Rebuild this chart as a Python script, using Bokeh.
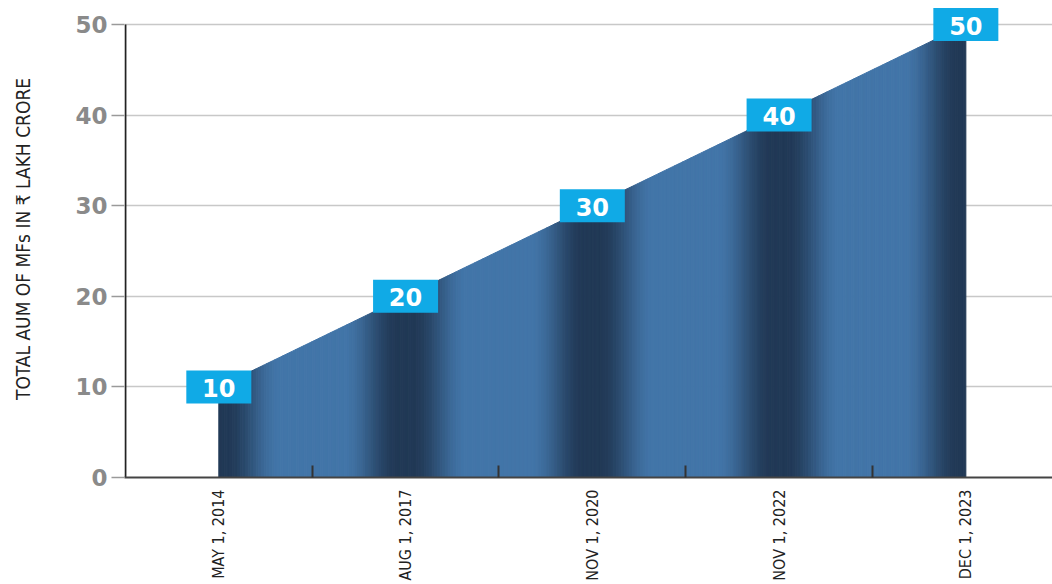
import math
import numpy as np
from bokeh.plotting import figure
from bokeh.models import ColumnDataSource, FixedTicker, Range1d
from bokeh.core.properties import value
from bokeh.embed import file_html
from bokeh.resources import INLINE

# ---- data ----
dates = ["MAY 1, 2014", "AUG 1, 2017", "NOV 1, 2020", "NOV 1, 2022", "DEC 1, 2023"]
aum = [10, 20, 30, 40, 50]
y_ticks = [0, 10, 20, 30, 40, 50]
y_label = "TOTAL AUM OF MFs IN ₹ LAKH CRORE"

idx = list(range(len(dates)))

NARROW = "'DejaVu Sans Condensed', 'Liberation Sans Narrow', 'Roboto Condensed', Roboto, sans-serif"

p = figure(width=1052, height=584, output_backend="svg", toolbar_location=None,
           x_range=Range1d(-0.505, 4.464), y_range=Range1d(0, 52.65),
           min_border_left=124, min_border_right=0, min_border_top=0,
           min_border_bottom=107)
p.outline_line_color = None
p.background_fill_color = "white"

# ---- shaded area (drawn as thin strips to imitate the gradient shading) ----
dark = np.array([33, 57, 86])
light = np.array([66, 117, 168])


def shade(d):
    d0, d1 = 0.04, 0.33
    if d <= d0:
        f = 1.0
    elif d >= d1:
        f = 0.0
    else:
        u = (d - d0) / (d1 - d0)
        f = 1 - (3 * u * u - 2 * u ** 3)
    c = light + (dark - light) * f
    return "#%02x%02x%02x" % tuple(int(round(v)) for v in c)


xs, ys, cols = [], [], []
N = 70
for i in range(len(aum) - 1):
    xa_, xb_ = idx[i], idx[i + 1]
    ya_, yb_ = aum[i], aum[i + 1]
    ts = np.linspace(0, 1, N + 1)
    for k in range(N):
        t0, t1 = ts[k], ts[k + 1]
        x0, x1 = xa_ + (xb_ - xa_) * t0, xa_ + (xb_ - xa_) * t1
        y0, y1 = ya_ + (yb_ - ya_) * t0, ya_ + (yb_ - ya_) * t1
        xs.append([x0, x1, x1, x0])
        ys.append([0, 0, y1, y0])
        tm = (t0 + t1) / 2
        cols.append(shade(min(tm, 1 - tm)))

strip_src = ColumnDataSource(dict(xs=xs, ys=ys, c=cols))
p.patches("xs", "ys", source=strip_src, fill_color="c", line_color="c", line_width=1)

# ---- y axis line (only from 0 to 50) ----
p.segment(x0=[-0.5], y0=[y_ticks[0]], x1=[-0.5], y1=[y_ticks[-1]],
          line_color="#222222", line_width=2)

# ---- value boxes ----
src = ColumnDataSource(dict(x=idx, y=aum, t=[str(v) for v in aum]))
p.rect(x="x", y="y", width=65, height=33, width_units="screen", height_units="screen",
       source=src, fill_color="#10aae6", line_color=None)
p.text(x="x", y="y", text="t", source=src, text_align="center", text_baseline="middle",
       text_color="white", text_font=value("DejaVu Sans"), text_font_style="bold",
       text_font_size="24px", y_offset=1)

# ---- axes ----
xa = p.xaxis[0]
xa.ticker = FixedTicker(ticks=idx, minor_ticks=[i + 0.5 for i in idx[:-1]])
xa.major_label_overrides = {i: d for i, d in zip(idx, dates)}
xa.major_label_orientation = math.pi / 2
xa.major_label_standoff = 12
xa.major_label_text_font = NARROW
xa.major_label_text_font_size = "16px"
xa.major_label_text_color = "#222222"
xa.major_tick_line_color = None
xa.major_tick_out = 0
xa.major_tick_in = 0
xa.minor_tick_in = 12
xa.minor_tick_out = 0
xa.minor_tick_line_color = "#333333"
xa.minor_tick_line_width = 2
xa.axis_line_color = "#444444"
xa.axis_line_width = 2

ya = p.yaxis[0]
ya.ticker = FixedTicker(ticks=y_ticks, minor_ticks=[])
ya.major_tick_out = 13
ya.major_tick_in = 0
ya.major_tick_line_color = "#9a9a9a"
ya.major_tick_line_width = 1.5
ya.major_label_standoff = 4
ya.major_label_text_font = "DejaVu Sans"
ya.major_label_text_font_style = "bold"
ya.major_label_text_font_size = "23px"
ya.major_label_text_color = "#8a8a8a"
ya.axis_line_color = None
ya.axis_label = y_label
ya.axis_label_text_font = NARROW
ya.axis_label_text_font_style = "normal"
ya.axis_label_text_font_size = "19px"
ya.axis_label_text_color = "#222222"
ya.axis_label_standoff = 38

p.xgrid.grid_line_color = None
p.ygrid.ticker = FixedTicker(ticks=y_ticks)
p.ygrid.grid_line_color = "#c8c8c8"
p.ygrid.grid_line_width = 1.5

open("out.html", "w").write(file_html(p, INLINE))
